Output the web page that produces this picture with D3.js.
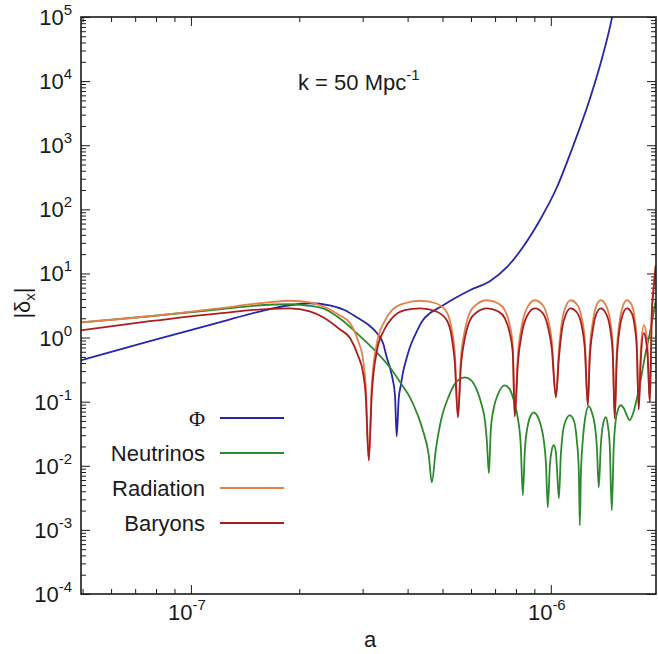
<!DOCTYPE html>
<html>
<head>
<meta charset="utf-8">
<script src="https://cdn.jsdelivr.net/npm/d3@7"></script>
<style>
body { margin: 0; background: #fff; }
text { font-family: "Liberation Sans", Arial, sans-serif; fill: #1a1a1a; }
</style>
</head>
<body>
<div id="chart"></div>
<script>
// Phi
var phiA = [4.95e-8, 7.69e-8, 1.20e-7, 1.56e-7, 1.88e-7, 2.14e-7, 2.43e-7, 2.68e-7, 2.89e-7, 3.10e-7,
  3.29e-7, 3.42e-7, 3.50e-7, 3.57e-7, 3.64e-7, 3.69e-7, 3.73e-7, 3.78e-7, 3.83e-7, 3.88e-7,
  3.96e-7, 4.06e-7, 4.22e-7, 4.41e-7, 4.61e-7, 4.92e-7, 5.41e-7, 5.96e-7, 6.77e-7, 7.55e-7,
  8.36e-7, 9.32e-7, 1.04e-6, 1.15e-6, 1.28e-6, 1.39e-6, 1.48e-6, 1.51e-6];
var phiD = [0.442, 0.876, 1.73, 2.57, 3.19, 3.43, 3.19, 2.67, 2.07, 1.61,
  1.17, 0.815, 0.493, 0.344, 0.216, 0.126, 0.0289, 0.113, 0.180, 0.277,
  0.442, 0.706, 1.17, 1.86, 2.39, 2.97, 4.10, 5.47, 7.55, 12.5,
  25.6, 67.6, 221, 931, 5040, 23600, 99300, 183000];

// Neutrinos
var nuA = [4.95e-8, 7.69e-8, 1.20e-7, 1.56e-7, 1.88e-7, 2.07e-7, 2.33e-7, 2.59e-7, 2.89e-7, 3.24e-7,
  3.57e-7, 3.88e-7, 4.06e-7, 4.27e-7, 4.41e-7, 4.58e-7, 4.67e-7, 4.79e-7, 4.92e-7, 5.01e-7,
  5.18e-7, 5.34e-7, 5.52e-7, 5.77e-7, 6.00e-7, 6.23e-7, 6.43e-7, 6.56e-7, 6.64e-7, 6.73e-7,
  6.81e-7, 6.94e-7, 7.13e-7, 7.45e-7, 7.69e-7, 7.89e-7, 8.10e-7, 8.25e-7, 8.36e-7, 8.47e-7,
  8.63e-7, 8.80e-7, 8.97e-7, 9.15e-7, 9.38e-7, 9.56e-7, 9.69e-7, 9.81e-7, 9.94e-7, 1.006e-6,
  1.019e-6, 1.033e-6, 1.039e-6, 1.053e-6, 1.066e-6, 1.080e-6, 1.101e-6, 1.129e-6, 1.158e-6, 1.181e-6,
  1.196e-6, 1.204e-6, 1.212e-6, 1.227e-6, 1.243e-6, 1.275e-6, 1.300e-6, 1.325e-6, 1.342e-6, 1.359e-6,
  1.377e-6, 1.395e-6, 1.422e-6, 1.440e-6, 1.458e-6, 1.477e-6, 1.496e-6, 1.515e-6, 1.535e-6, 1.564e-6,
  1.595e-6, 1.626e-6, 1.656e-6, 1.690e-6, 1.722e-6, 1.766e-6, 1.824e-6, 1.884e-6, 1.958e-6];
var nuD = [1.73, 2.15, 2.76, 3.19, 3.31, 3.19, 2.86, 2.00, 1.17, 0.634,
  0.344, 0.174, 0.117, 0.0613, 0.0358, 0.0146, 0.00553, 0.0175, 0.0428, 0.0659,
  0.113, 0.168, 0.216, 0.240, 0.216, 0.151, 0.0879, 0.0513, 0.0250, 0.00764,
  0.0358, 0.0789, 0.130, 0.180, 0.156, 0.105, 0.0551, 0.0209, 0.00347, 0.0175,
  0.0428, 0.0613, 0.0683, 0.0613, 0.0428, 0.0250, 0.0113, 0.00225, 0.0102, 0.0175,
  0.0209, 0.0162, 0.0102, 0.00311, 0.0146, 0.0333, 0.0513, 0.0613, 0.0513, 0.0250,
  0.00851, 0.00118, 0.00711, 0.0250, 0.0513, 0.0848, 0.0683, 0.0428, 0.0209, 0.00462,
  0.0209, 0.0428, 0.0571, 0.0428, 0.0209, 0.00202, 0.0209, 0.0513, 0.0734, 0.0879,
  0.0789, 0.0613, 0.0513, 0.0636, 0.0944, 0.180, 0.493, 1.17, 3.82];

// Radiation
var radA = [4.95e-8, 7.69e-8, 1.20e-7, 1.56e-7, 1.88e-7, 2.14e-7, 2.33e-7, 2.59e-7, 2.77e-7, 2.91e-7,
  3.01e-7, 3.06e-7, 3.12e-7, 3.18e-7, 3.29e-7, 3.44e-7, 3.62e-7, 3.93e-7, 4.33e-7, 4.79e-7,
  5.14e-7, 5.31e-7, 5.41e-7, 5.52e-7, 5.62e-7, 5.77e-7, 5.96e-7, 6.23e-7, 6.64e-7, 7.13e-7,
  7.45e-7, 7.69e-7, 7.84e-7, 7.94e-7, 8.10e-7, 8.31e-7, 8.58e-7, 9.03e-7, 9.50e-7, 9.81e-7,
  1.006e-6, 1.033e-6, 1.053e-6, 1.073e-6, 1.101e-6, 1.136e-6, 1.181e-6, 1.219e-6, 1.243e-6, 1.267e-6,
  1.283e-6, 1.308e-6, 1.334e-6, 1.377e-6, 1.422e-6, 1.458e-6, 1.486e-6, 1.505e-6, 1.525e-6, 1.554e-6,
  1.585e-6, 1.626e-6, 1.679e-6, 1.710e-6, 1.733e-6, 1.755e-6, 1.778e-6, 1.812e-6, 1.835e-6, 1.859e-6,
  1.884e-6, 1.908e-6, 1.932e-6, 1.958e-6];
var radD = [1.73, 2.15, 2.86, 3.43, 3.75, 3.55, 3.08, 2.23, 1.67, 0.908,
  0.442, 0.180, 0.0122, 0.180, 0.845, 1.73, 2.67, 3.43, 3.75, 3.43,
  2.48, 1.30, 0.590, 0.0571, 0.442, 1.30, 2.48, 3.31, 3.82, 3.43,
  2.67, 1.56, 0.758, 0.0592, 0.530, 1.56, 2.86, 3.82, 3.19, 2.00,
  0.908, 0.117, 0.634, 1.73, 3.08, 3.82, 3.31, 2.00, 0.908, 0.0879,
  0.634, 1.73, 2.97, 3.82, 3.19, 2.00, 0.758, 0.0551, 0.590, 1.86,
  3.08, 3.82, 3.19, 2.00, 0.908, 0.0761, 0.634, 1.56, 1.30, 0.634,
  0.0979, 2.67, 6.55, 13.4];

// Baryons
var barA = [4.95e-8, 7.69e-8, 1.20e-7, 1.66e-7, 1.88e-7, 2.14e-7, 2.33e-7, 2.59e-7, 2.77e-7, 2.91e-7,
  3.01e-7, 3.06e-7, 3.12e-7, 3.18e-7, 3.29e-7, 3.44e-7, 3.62e-7, 3.93e-7, 4.33e-7, 4.79e-7,
  5.14e-7, 5.31e-7, 5.41e-7, 5.52e-7, 5.62e-7, 5.77e-7, 5.96e-7, 6.23e-7, 6.64e-7, 7.13e-7,
  7.45e-7, 7.69e-7, 7.84e-7, 7.94e-7, 8.10e-7, 8.31e-7, 8.58e-7, 9.03e-7, 9.50e-7, 9.81e-7,
  1.006e-6, 1.033e-6, 1.053e-6, 1.073e-6, 1.101e-6, 1.136e-6, 1.181e-6, 1.219e-6, 1.243e-6, 1.267e-6,
  1.283e-6, 1.308e-6, 1.334e-6, 1.377e-6, 1.422e-6, 1.458e-6, 1.486e-6, 1.505e-6, 1.525e-6, 1.554e-6,
  1.585e-6, 1.626e-6, 1.679e-6, 1.710e-6, 1.733e-6, 1.755e-6, 1.778e-6, 1.812e-6, 1.835e-6, 1.859e-6,
  1.884e-6, 1.908e-6, 1.932e-6, 1.958e-6];
var barD = [1.30, 1.80, 2.39, 2.81, 2.86, 2.57, 2.07, 1.35, 0.975, 0.530,
  0.277, 0.126, 0.0122, 0.126, 0.634, 1.30, 2.00, 2.67, 2.86, 2.57,
  1.86, 0.975, 0.412, 0.0571, 0.332, 0.975, 1.86, 2.48, 2.86, 2.57,
  2.00, 1.17, 0.569, 0.0592, 0.397, 1.17, 2.15, 2.86, 2.39, 1.50,
  0.681, 0.117, 0.475, 1.30, 2.31, 2.86, 2.48, 1.50, 0.681, 0.0879,
  0.475, 1.30, 2.23, 2.86, 2.39, 1.50, 0.569, 0.0551, 0.442, 1.40,
  2.31, 2.86, 2.39, 1.50, 0.681, 0.0761, 0.442, 1.17, 0.975, 0.475,
  0.0979, 2.23, 5.88, 13.4];

var xTickExp = [-7, -6];
var yTickExp = [-4, -3, -2, -1, 0, 1, 2, 3, 4, 5];
var seriesNames = ["\u03A6", "Neutrinos", "Radiation", "Baryons"];
var seriesColors = ["#2626a8", "#2b8a2b", "#e5804a", "#a81f22"];

var margin = {top: 17, right: 2, bottom: 60, left: 81},
    width = 658 - margin.left - margin.right,
    height = 654 - margin.top - margin.bottom;

var x = d3.scaleLog().domain([4.95e-8, 1.96e-6]).range([0, width]);
var y = d3.scaleLog().domain([1e-4, 1e5]).range([height, 0]);

var svg = d3.select("#chart").append("svg")
    .attr("width", 658)
    .attr("height", 654)
    .append("g")
    .attr("transform", "translate(" + margin.left + "," + margin.top + ")");

svg.append("clipPath").attr("id", "plotclip")
    .append("rect").attr("width", width).attr("height", height);

// minor tick lists (2..9 of each decade)
var xMinor = [], yMinor = [];
[-8, -7, -6].forEach(function(e) {
    for (var m = 2; m <= 9; m++) {
        var v = m * Math.pow(10, e);
        if (v > x.domain()[0] && v < x.domain()[1]) xMinor.push(v);
    }
});
yTickExp.forEach(function(e) {
    for (var m = 2; m <= 9; m++) {
        var v = m * Math.pow(10, e);
        if (v < 1e5) yMinor.push(v);
    }
});
var xMajor = xTickExp.map(function(e) { return Math.pow(10, e); });
var yMajor = yTickExp.map(function(e) { return Math.pow(10, e); });

function tickGroup(axis, scale, vals, size, transform) {
    var g = svg.append("g").attr("transform", transform)
        .call(axis(scale).tickValues(vals).tickSize(size).tickFormat(""));
    g.select(".domain").remove();
    g.selectAll("line").attr("stroke", "#1a1a1a").attr("stroke-width", 1);
}
// ticks on all four sides, pointing inward
tickGroup(d3.axisBottom, x, xMajor, -9, "translate(0," + height + ")");
tickGroup(d3.axisBottom, x, xMinor, -5, "translate(0," + height + ")");
tickGroup(d3.axisTop, x, xMajor, -9, "translate(0,0)");
tickGroup(d3.axisTop, x, xMinor, -5, "translate(0,0)");
tickGroup(d3.axisLeft, y, yMajor, -9, "translate(0,0)");
tickGroup(d3.axisLeft, y, yMinor, -5, "translate(0,0)");
tickGroup(d3.axisRight, y, yMajor, -9, "translate(" + width + ",0)");
tickGroup(d3.axisRight, y, yMinor, -5, "translate(" + width + ",0)");

// tick labels
var yl = svg.append("g").selectAll("text").data(yTickExp).enter().append("text")
    .attr("x", -9)
    .attr("y", function(d) { return y(Math.pow(10, d)) + 8; })
    .attr("text-anchor", "end")
    .style("font-size", "22px");
yl.append("tspan").text("10");
yl.append("tspan").attr("dy", -10).style("font-size", "15px").text(function(d) { return d < 0 ? "-" + (-d) : d; });

var xl = svg.append("g").selectAll("text").data(xTickExp).enter().append("text")
    .attr("x", function(d) { return x(Math.pow(10, d)) - 4; })
    .attr("y", height + 26)
    .attr("text-anchor", "middle")
    .style("font-size", "22px");
xl.append("tspan").text("10");
xl.append("tspan").attr("dy", -10).style("font-size", "15px").text(function(d) { return "-" + (-d); });

// curves
var line = d3.line()
    .x(function(d) { return x(d[0]); })
    .y(function(d) { return y(d[1]); })
    .curve(d3.curveMonotoneX);

var curves = [d3.zip(phiA, phiD), d3.zip(nuA, nuD), d3.zip(radA, radD), d3.zip(barA, barD)];
svg.append("g").attr("clip-path", "url(#plotclip)")
    .selectAll("path").data(curves).enter().append("path")
    .attr("fill", "none")
    .attr("stroke", function(d, i) { return seriesColors[i]; })
    .attr("stroke-width", 1.8)
    .attr("stroke-linejoin", "round")
    .attr("d", line);

// frame
svg.append("rect")
    .attr("width", width).attr("height", height)
    .attr("fill", "none").attr("stroke", "#1a1a1a").attr("stroke-width", 1.6);

// legend
var leg = svg.append("g").selectAll("g").data(seriesNames).enter().append("g")
    .attr("transform", function(d, i) { return "translate(0," + (401 + i * 35) + ")"; });
leg.append("text")
    .attr("x", 124).attr("y", 8)
    .attr("text-anchor", "end")
    .style("font-size", "22px")
    .style("font-family", function(d, i) { return i === 0 ? "'Liberation Serif', serif" : null; })
    .text(function(d) { return d; });
leg.append("line")
    .attr("x1", 139).attr("x2", 203)
    .attr("stroke", function(d, i) { return seriesColors[i]; })
    .attr("stroke-width", 1.8);

// annotation
var ann = svg.append("text").attr("x", 217).attr("y", 73).style("font-size", "22px");
ann.append("tspan").text("k = 50 Mpc");
ann.append("tspan").attr("dy", -10).style("font-size", "15px").text("-1");

// axis titles
svg.append("text")
    .attr("x", 289).attr("y", height + 53)
    .attr("text-anchor", "middle")
    .style("font-size", "22px")
    .text("a");

var yt = svg.append("text")
    .attr("transform", "translate(-51," + 286 + ") rotate(-90)")
    .attr("text-anchor", "middle")
    .style("font-size", "22px");
yt.append("tspan").text("|\u03B4");
yt.append("tspan").attr("dy", 5).style("font-size", "15px").text("x");
yt.append("tspan").attr("dy", -5).text("|");
</script>
</body>
</html>
